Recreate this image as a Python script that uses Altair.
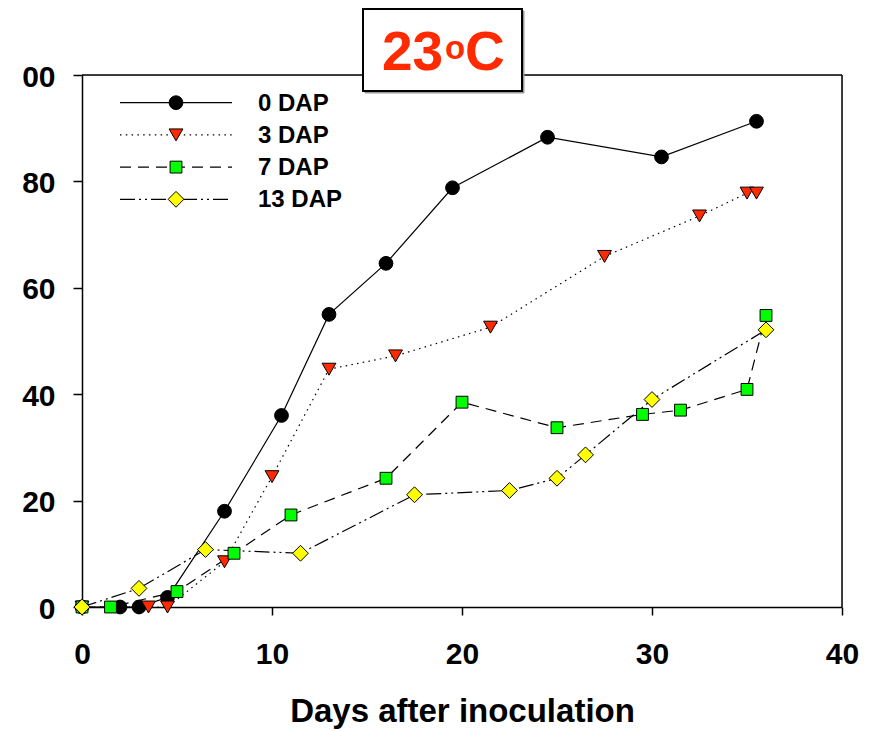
import altair as alt
import pandas as pd

# ---------------- data ----------------
series_names = ["0 DAP", "3 DAP", "7 DAP", "13 DAP"]

x_0dap = [0, 2, 3, 4.5, 7.5, 10.5, 13, 16, 19.5, 24.5, 30.5, 35.5]
y_0dap = [0, 0, 0, 1.8, 18, 36, 55, 64.6, 78.8, 88.3, 84.6, 91.3]

x_3dap = [0, 3.5, 4.5, 7.5, 10, 13, 16.5, 21.5, 27.5, 32.5, 35, 35.5]
y_3dap = [0, 0, 0, 8.5, 24.5, 44.7, 47.2, 52.6, 65.9, 73.5, 77.8, 77.8]

x_7dap = [0, 1.5, 5, 8, 11, 16, 20, 25, 29.5, 31.5, 35, 36]
y_7dap = [0, 0, 2.9, 10.1, 17.3, 24.2, 38.5, 33.7, 36.2, 37.0, 40.9, 54.8]

x_13dap = [0, 3, 6.5, 11.5, 17.5, 22.5, 25, 26.5, 30, 36]
y_13dap = [0, 3.5, 10.8, 10.1, 21.1, 21.9, 24.2, 28.6, 39.0, 52.1]

x_ticks = [0, 10, 20, 30, 40]
y_ticks = [0, 20, 40, 60, 80, 100]
x_title = "Days after inoculation"
title_main, title_sup, title_unit = "23", "o", "C"

# ---------------- styles ----------------
FONT = "Liberation Sans, Arial, Helvetica, sans-serif"
W, H = 760, 532
RED = "#FF2A00"

styles = [
    dict(shape="circle", fill="#000000", size=190, dash=None),
    dict(shape="triangle-down", fill=RED, size=190, dash=[1.5, 4.3]),
    dict(shape="square", fill="#00FF00", size=140, dash=[11, 7]),
    dict(shape="diamond", fill="#FFFF00", size=250, dash=[15, 4, 2, 4, 2, 4]),
]
xs = [x_0dap, x_3dap, x_7dap, x_13dap]
ys = [y_0dap, y_3dap, y_7dap, y_13dap]

x_enc = alt.X(
    "day:Q",
    scale=alt.Scale(domain=[0, 40], nice=False, zero=False),
    axis=alt.Axis(
        values=x_ticks, title=x_title, grid=False, tickSize=8, tickWidth=1.5,
        tickColor="black", domainColor="black", domainWidth=1.5,
        labelFont=FONT, labelFontSize=30, labelFontWeight="bold", labelColor="black",
        labelPadding=24, labelFlush=False,
        titleFont=FONT, titleFontSize=33, titleFontWeight="bold", titleColor="black",
        titleBaseline="alphabetic", titleY=114,
    ),
)
y_enc = alt.Y(
    "val:Q",
    scale=alt.Scale(domain=[0, 100], nice=False),
    axis=alt.Axis(
        values=y_ticks, title=None, grid=False, tickSize=9, tickWidth=1.5,
        tickColor="black", domainColor="black", domainWidth=1.5,
        labelFont=FONT, labelFontSize=30, labelFontWeight="bold", labelColor="black",
        labelPadding=18, labelOffset=2, labelFlush=False,
        labelExpr="datum.value == 100 ? '00' : datum.label",
    ),
)

layers = []
one = pd.DataFrame({"k": [0]})

# frame (top + right)
layers.append(alt.Chart(one).mark_rule(color="black", strokeWidth=1.5).encode(
    x=alt.value(0), x2=alt.value(W), y=alt.value(0)))
layers.append(alt.Chart(one).mark_rule(color="black", strokeWidth=1.5).encode(
    x=alt.value(W), y=alt.value(0), y2=alt.value(H)))

frames = []
for name, xv, yv in zip(series_names, xs, ys):
    frames.append(pd.DataFrame({"series": name, "day": xv, "val": yv,
                                "order": list(range(len(xv)))}))

# lines
for df, st in zip(frames, styles):
    kw = dict(color="black", strokeWidth=1.2)
    if st["dash"]:
        kw["strokeDash"] = st["dash"]
    layers.append(alt.Chart(df).mark_line(**kw).encode(
        x=x_enc, y=y_enc, order="order:Q"))

# points
for df, st in zip(frames, styles):
    layers.append(alt.Chart(df).mark_point(
        filled=True, shape=st["shape"], size=st["size"], fill=st["fill"],
        stroke="black", strokeWidth=1, opacity=1).encode(x=x_enc, y=y_enc))

# legend (manual)
LEG_Y0, LEG_DY = 27.7, 32.2
for i, (name, st) in enumerate(zip(series_names, styles)):
    ry = LEG_Y0 + i * LEG_DY
    d = pd.DataFrame({"label": [name]})
    kw = dict(color="black", strokeWidth=1.2)
    if st["dash"]:
        kw["strokeDash"] = st["dash"]
    layers.append(alt.Chart(d).mark_rule(**kw).encode(
        x=alt.value(38), x2=alt.value(150), y=alt.value(ry)))
    layers.append(alt.Chart(d).mark_point(
        filled=True, shape=st["shape"], size=st["size"], fill=st["fill"],
        stroke="black", strokeWidth=1, opacity=1).encode(
        x=alt.value(94), y=alt.value(ry)))
    layers.append(alt.Chart(d).mark_text(
        align="left", baseline="middle", font=FONT, fontSize=24,
        fontWeight="bold", color="black").encode(
        x=alt.value(176), y=alt.value(ry + 1), text="label:N"))

# title box
layers.append(alt.Chart(one).mark_rect(fill="#999999", stroke="#999999", strokeWidth=1).encode(
    x=alt.value(283), x2=alt.value(442), y=alt.value(-64), y2=alt.value(18)))
layers.append(alt.Chart(one).mark_rect(fill="white", stroke="black", strokeWidth=2).encode(
    x=alt.value(281), x2=alt.value(440), y=alt.value(-66), y2=alt.value(16)))

tparts = [
    (title_main, 300, -5, 55),
    (title_sup, 363, -16, 33),
    (title_unit, 383, -5, 55),
]
for txt, tx, ty, fs in tparts:
    d = pd.DataFrame({"t": [txt]})
    layers.append(alt.Chart(d).mark_text(
        align="left", baseline="alphabetic", font=FONT, fontSize=fs,
        fontWeight="bold", color=RED).encode(
        x=alt.value(tx), y=alt.value(ty), text="t:N"))

chart = alt.layer(*layers).properties(
    width=W, height=H,
    autosize=alt.AutoSizeParams(type="none"),
    padding={"left": 74, "top": 67, "right": 36, "bottom": 124},
).configure_view(strokeWidth=0).configure(background="white")

chart.save("out.html", embed_options={"renderer": "svg", "actions": False})
